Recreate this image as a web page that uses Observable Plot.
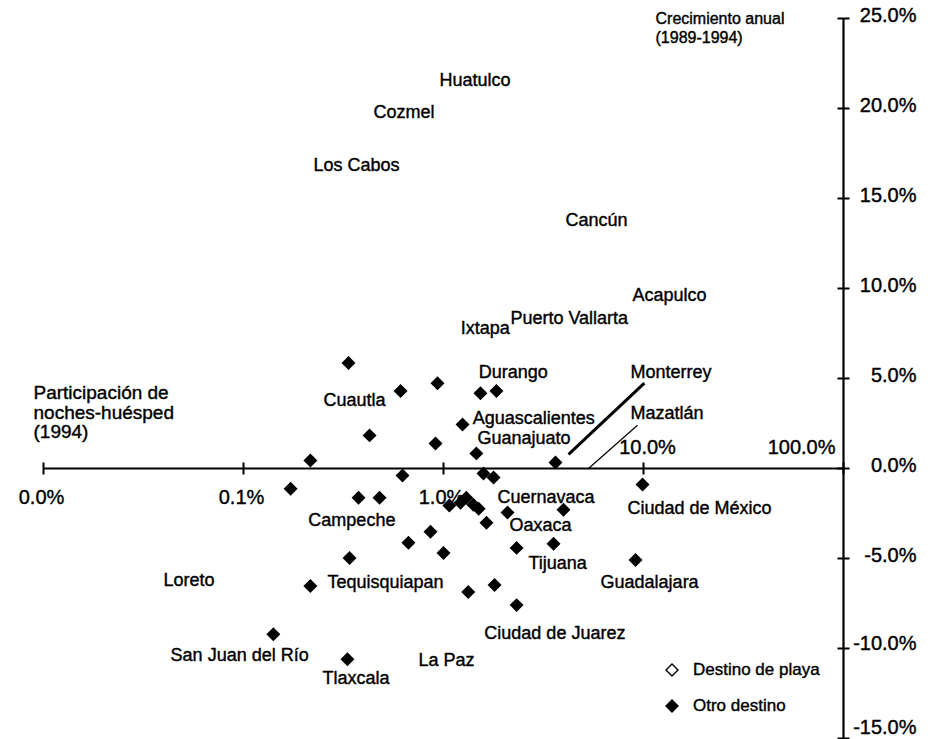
<!DOCTYPE html>
<html><head><meta charset="utf-8">
<script src="https://cdn.jsdelivr.net/npm/d3@7"></script>
<script src="https://cdn.jsdelivr.net/npm/@observablehq/plot@0.6"></script>
<style>
body{margin:0;background:#fff;}
#wrap{position:relative;width:934px;height:739px;font-family:"Liberation Sans",Arial,sans-serif;}
#legend{position:absolute;left:662px;top:652px;font-size:17px;color:#000;-webkit-text-stroke:0.4px #000;}
#legend div{display:flex;align-items:center;height:36px;}
#legend svg{width:20px;height:20px;margin-right:11px;}
</style></head><body><div id="wrap"><div id="legend"></div></div>
<script>
// Otro destino (filled diamonds): share of guest nights 1994 (%), annual growth 1989-1994 (%)
const otherShare = [0.335,0.61,0.933,1.53,1.84,1.245,0.427,0.912,1.46,0.216,3.63,0.624,1.585,1.78,0.172,0.376,0.479,9.89,1.07,1.216,1.30,1.41,1.50,2.09,3.98,1.64,0.861,0.668,1.0,2.32,3.55,0.339,9.12,0.216,1.33,1.80,2.32,0.141,0.331];
const otherGrowth = [5.86,4.30,4.74,4.18,4.30,2.45,1.84,1.39,0.84,0.45,0.33,-0.39,-0.28,-0.50,-1.12,-1.62,-1.62,-0.89,-2.06,-1.90,-1.62,-2.01,-2.23,-2.45,-2.29,-3.01,-3.51,-4.13,-4.69,-4.41,-4.18,-4.97,-5.08,-6.53,-6.86,-6.47,-7.59,-9.21,-10.60];

// Destination labels (left edge of label)
const labelNames = ["Huatulco","Cozmel","Los Cabos","Cancún","Acapulco","Puerto Vallarta","Ixtapa","Durango","Cuautla","Aguascalientes","Guanajuato","Monterrey","Mazatlán","Cuernavaca","Ciudad de México","Campeche","Oaxaca","Tijuana","Guadalajara","Loreto","Tequisquiapan","Ciudad de Juarez","San Juan del Río","La Paz","Tlaxcala"];
const labelShare = [0.955,0.447,0.224,4.07,8.81,2.16,1.22,1.50,0.251,1.40,1.48,8.61,8.61,1.86,8.32,0.211,2.14,2.66,6.10,0.0398,0.263,1.60,0.0432,0.75,0.248];
const labelGrowth = [21.56,19.78,16.83,13.78,9.61,8.33,7.78,5.33,3.78,2.78,1.67,5.33,3.06,-1.61,-2.22,-2.89,-3.17,-5.28,-6.33,-6.22,-6.33,-9.17,-10.39,-10.67,-11.67];

// Leader lines (Monterrey, Mazatlán)
const leaderShare1 = [4.22, 5.31];
const leaderGrowth1 = [0.78, 0];
const leaderShare2 = [10.1, 9.33];
const leaderGrowth2 = [4.74, 2.40];
const leaderWidth = [3, 1.2];

const xTickValues = [0.01, 0.1, 1, 10, 100];
const xTickLabels = ["0.0%", "0.1%", "1.0%", "10.0%", "100.0%"];
const xTickAbove = [false, false, false, true, true];
const yTickValues = [-15, -10, -5, 0, 5, 10, 15, 20, 25];
const yTickLabels = ["-15.0%", "-10.0%", "-5.0%", "0.0%", "5.0%", "10.0%", "15.0%", "20.0%", "25.0%"];

const xTitle = "Participación de\nnoches-huésped\n(1994)";
const yTitle = "Crecimiento anual\n(1989-1994)";
const legendItems = ["Destino de playa", "Otro destino"];

const others = otherShare.map((s, i) => ({share: s, growth: otherGrowth[i]}));
const labels = labelNames.map((n, i) => ({name: n, share: labelShare[i], growth: labelGrowth[i]}));
const leaders = leaderShare1.map((s, i) => ({x1: s, y1: leaderGrowth1[i], x2: leaderShare2[i], y2: leaderGrowth2[i], w: leaderWidth[i]}));
const xt = xTickValues.map((v, i) => ({v, label: xTickLabels[i], above: xTickAbove[i]}));
const yt = yTickValues.map((v, i) => ({v, label: yTickLabels[i]}));

const vTick = {draw(ctx) { ctx.moveTo(0, -6); ctx.lineTo(0, 6); }};
const hTick = {draw(ctx) { ctx.moveTo(-6, 0); ctx.lineTo(6, 0); }};

const font = "Liberation Sans, Arial, sans-serif";
const T = {fill: "black", stroke: "black", strokeWidth: 0.4};

const chart = Plot.plot({
  width: 934,
  height: 739,
  marginLeft: 43,
  marginRight: 91,
  marginTop: 18,
  marginBottom: 1,
  x: {type: "log", domain: [0.01, 100], axis: null},
  y: {domain: [-15, 25], axis: null},
  style: {fontFamily: font, background: "white", color: "black", overflow: "visible"},
  marks: [
    Plot.ruleY([0], {stroke: "black", strokeWidth: 2.2}),
    Plot.ruleX([100], {stroke: "black", strokeWidth: 2.2}),
    Plot.dot(xt, {x: "v", y: 0, symbol: vTick, stroke: "black", strokeWidth: 2, fill: "none"}),
    Plot.dot(yt, {x: 100, y: "v", symbol: hTick, stroke: "black", strokeWidth: 2, fill: "none"}),
    Plot.text(xt.filter(d => !d.above), {x: "v", y: 0, text: "label", dy: 29, dx: -2, fontSize: 20, ...T}),
    Plot.text(xt.filter(d => d.above && d.v < 100), {x: "v", y: 0, text: "label", dy: -21, dx: 4, fontSize: 20, ...T}),
    Plot.text(xt.filter(d => d.v === 100), {x: "v", y: 0, text: "label", dy: -21, dx: -8, textAnchor: "end", fontSize: 20, ...T}),
    Plot.text(yt.filter(d => d.v > -10), {x: 100, y: "v", text: "label", textAnchor: "end", dx: 73, dy: -3, fontSize: 20, ...T}),
    Plot.text(yt.filter(d => d.v === -10), {x: 100, y: "v", text: "label", textAnchor: "end", dx: 73, dy: -5, fontSize: 20, ...T}),
    Plot.text(yt.filter(d => d.v === -15), {x: 100, y: "v", text: "label", textAnchor: "end", dx: 73, dy: -11, fontSize: 20, ...T}),
    Plot.link(leaders, {x1: "x1", y1: "y1", x2: "x2", y2: "y2", stroke: "black", strokeWidth: "w"}),
    Plot.dot(others, {x: "share", y: "growth", symbol: "diamond2", r: 6.3, fill: "black", stroke: "none"}),
    Plot.text(labels, {x: "share", y: "growth", text: "name", textAnchor: "start", fontSize: 18, ...T}),
    Plot.text([xTitle], {frameAnchor: "left", dx: -10, dy: 34, textAnchor: "start", fontSize: 19, lineHeight: 1.02, ...T}),
    Plot.text([yTitle], {frameAnchor: "top-right", dx: -188, dy: -8, textAnchor: "start", lineAnchor: "top", fontSize: 16, lineHeight: 1.2, ...T})
  ]
});
document.getElementById("wrap").prepend(chart);

const lg = document.getElementById("legend");
legendItems.forEach((name, i) => {
  const row = document.createElement("div");
  const filled = i === 1;
  row.innerHTML = `<svg viewBox="-10 -10 20 20"><path d="M0,-6L6,0L0,6L-6,0Z" fill="${filled ? "black" : "white"}" stroke="black" stroke-width="1.4"/></svg><span>${name}</span>`;
  lg.appendChild(row);
});
</script>
</body></html>
